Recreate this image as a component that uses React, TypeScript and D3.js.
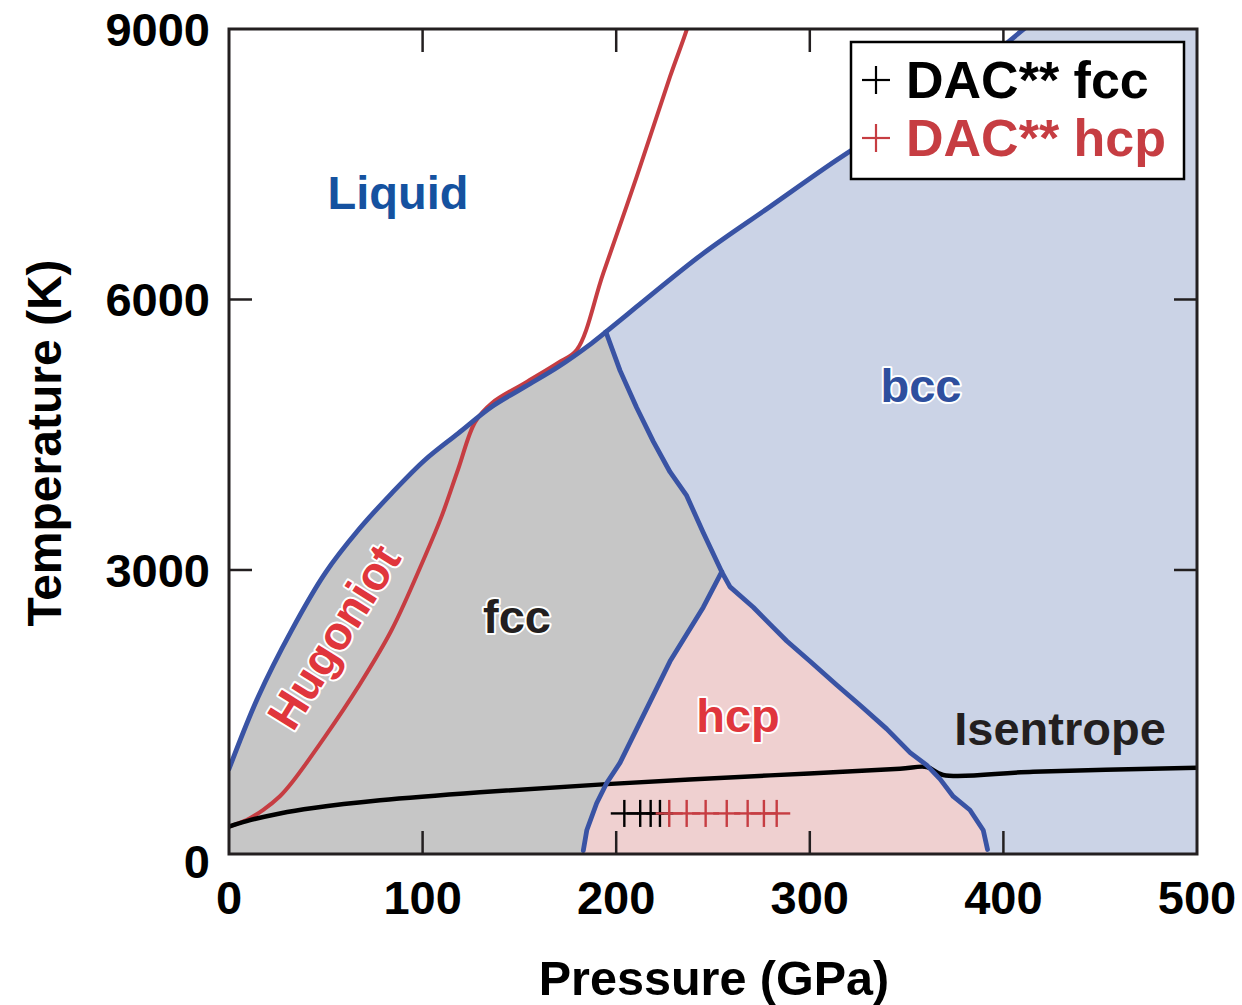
import React from 'react';
import * as d3 from 'd3';

type Pt = [number, number]; // [pressure GPa, temperature K]

// Phase boundaries
const meltFcc: Pt[] = [
  [0, 793], [15.1, 1595], [32.4, 2334], [49.6, 2963], [66.8, 3443], [84.0, 3850],
  [101.2, 4220], [118.4, 4516], [135.7, 4811], [152.9, 5033], [170.1, 5254],
  [187.3, 5514], [194.7, 5640],
];
const meltBcc: Pt[] = [
  [194.7, 5640], [210.6, 5920], [245.0, 6512], [279.4, 7029], [313.9, 7547],
  [348.3, 8027], [382.7, 8508], [412.0, 9025], [420.0, 9150],
];
const fccBcc: Pt[] = [
  [194.7, 5640], [202.0, 5211], [210.6, 4799], [219.2, 4424], [227.8, 4087],
  [236.4, 3824], [245.0, 3412], [254.5, 2980],
];
const hcpFcc: Pt[] = [
  [254.5, 2980], [245.0, 2587], [236.4, 2287], [227.8, 1987], [219.2, 1612],
  [210.6, 1238], [202.0, 863], [195.1, 638], [189.9, 413], [184.8, 113],
  [183.0, -112],
];
const hcpBcc: Pt[] = [
  [254.5, 2980], [258.8, 2813], [270.8, 2587], [279.4, 2400], [288.1, 2213],
  [300.1, 1987], [313.9, 1725], [326.0, 1500], [339.7, 1238], [351.8, 975],
  [360.4, 835], [367.3, 680], [374.1, 488], [382.7, 338], [389.6, 113], [391.8, -100],
];

// Thermodynamic paths
const hugoniot: Pt[] = [
  [0, 155], [9.1, 227], [17.7, 340], [26.3, 490], [32.4, 640], [49.6, 1151],
  [66.8, 1706], [84.0, 2334], [101.2, 3150], [109.9, 3600], [118.4, 4120],
  [127.1, 4640], [135.7, 4850], [152.9, 5075], [170.1, 5300], [179.6, 5440],
  [193.3, 6290], [210.6, 7362], [227.8, 8471], [236.4, 8990], [238.5, 9150],
];
const isentrope: Pt[] = [
  [0, 155], [9.1, 215], [26.3, 300], [43.5, 360], [78.0, 445], [129.6, 535],
  [195.1, 625], [279.4, 722], [346.6, 795], [360.4, 815], [368.9, 726],
  [415.4, 763], [500, 807],
];

// DAC measurements at room temperature
const dacFccP = [204.2, 212.4, 217.8, 222.6];
const dacHcpP = [227.4, 236.4, 246.2, 257.1, 267.9, 276.3, 282.9];
const dacT = 300;
const dacPErr = 7;
const dacTErr = 150;

const xTicks = [0, 100, 200, 300, 400, 500];
const yTicks = [0, 3000, 6000, 9000];

const FONT = '"Liberation Sans", Arial, Helvetica, sans-serif';
const BLUE = '#3953a4';
const RED = '#c63d42';
const INK = '#231f20';

export default function App() {
  const x = d3.scaleLinear().domain([0, 500]).range([229, 1197]);
  const y = d3.scaleLinear().domain([-150, 9000]).range([854, 29]);
  const [x0, x1] = x.range();
  const [yb, yt] = y.range();

  const lin = d3.line<Pt>().x(d => x(d[0])).y(d => y(d[1]));
  const smooth = d3.line<Pt>().x(d => x(d[0])).y(d => y(d[1])).curve(d3.curveCatmullRom.alpha(0.5));
  const L = (d: Pt) => `L${x(d[0])},${y(d[1])}`;
  const cont = (p: string | null) => (p || '').replace(/^M/, 'L');
  const rev = (a: Pt[]) => a.slice().reverse();

  const fccFill =
    `M${x(0)},${y(-150)}` + L([0, meltFcc[0][1]]) + cont(smooth(meltFcc)) +
    cont(lin(fccBcc)) + cont(lin(hcpFcc)) + L([182.9, -150]) + 'Z';
  const bccFill =
    (smooth(meltBcc) || '') + L([500, 9150]) + L([500, -150]) + L([391.9, -150]) +
    cont(lin(rev(hcpBcc))) + cont(lin(rev(fccBcc))) + 'Z';
  const hcpFill =
    (lin(hcpBcc) || '') + L([391.9, -150]) + L([182.9, -150]) + cont(lin(rev(hcpFcc))) + 'Z';

  const tickLen = 23;
  const innerX = xTicks.filter(v => v > 0 && v < 500);
  const innerY = yTicks.filter(v => v > 0 && v < 9000);

  const cross = (p: number, color: string, key: string) => (
    <g key={key} stroke={color} strokeWidth={2.4}>
      <line x1={x(p)} x2={x(p)} y1={y(dacT - dacTErr)} y2={y(dacT + dacTErr)} />
      <line x1={x(p - dacPErr)} x2={x(p + dacPErr)} y1={y(dacT)} y2={y(dacT)} />
    </g>
  );

  const halo = { stroke: '#fff', strokeWidth: 4, paintOrder: 'stroke' as const, strokeLinejoin: 'round' as const };

  return (
    <svg width={1242} height={1005} style={{ position: 'absolute', left: 0, top: 0, background: '#fff' }}
      fontFamily={FONT} fontWeight="bold">
      <defs>
        <clipPath id="plot">
          <rect x={x0} y={yt} width={x1 - x0} height={yb - yt} />
        </clipPath>
      </defs>
      <g clipPath="url(#plot)">
        <rect x={x0} y={yt} width={x1 - x0} height={yb - yt} fill="#fff" />
        <path d={fccFill} fill="#c6c6c6" />
        <path d={bccFill} fill="#cbd3e6" />
        <path d={hcpFill} fill="#efd0d0" />
        <path d={smooth(hugoniot) || ''} fill="none" stroke={RED} strokeWidth={4} />
        <path d={smooth(isentrope) || ''} fill="none" stroke="#000" strokeWidth={4.5} strokeLinejoin="round" />
        {[meltFcc, meltBcc].map((c, i) => (
          <path key={'m' + i} d={smooth(c) || ''} fill="none" stroke={BLUE} strokeWidth={4.8} strokeLinejoin="round" strokeLinecap="round" />
        ))}
        {[fccBcc, hcpFcc, hcpBcc].map((c, i) => (
          <path key={'b' + i} d={lin(c) || ''} fill="none" stroke={BLUE} strokeWidth={4.8} strokeLinejoin="round" strokeLinecap="round" />
        ))}
        {dacFccP.map((p, i) => cross(p, '#000', 'f' + i))}
        {dacHcpP.map((p, i) => cross(p, RED, 'h' + i))}
      </g>

      {/* Region labels */}
      <text x={398} y={209} fontSize={47} fill="#1552a0" textAnchor="middle">Liquid</text>
      <text x={921} y={402} fontSize={47} fill="#2e4f9e" textAnchor="middle" {...halo}>bcc</text>
      <text x={517} y={633} fontSize={47} fill={INK} textAnchor="middle" {...halo}>fcc</text>
      <text x={738} y={732} fontSize={47} fill="#e0363c" textAnchor="middle" {...halo}>hcp</text>
      <text x={1060} y={745} fontSize={47} fill={INK} textAnchor="middle">Isentrope</text>
      <g transform="translate(334,637) rotate(-58)">
        <text x={0} y={16} fontSize={47} fill="#e0363c" textAnchor="middle" {...halo}>Hugoniot</text>
      </g>

      {/* Frame and ticks */}
      <rect x={x0} y={yt} width={x1 - x0} height={yb - yt} fill="none" stroke={INK} strokeWidth={3} />
      <g stroke={INK} strokeWidth={2.5}>
        {innerX.map(v => (
          <g key={'xt' + v}>
            <line x1={x(v)} x2={x(v)} y1={yb} y2={yb - tickLen} />
            <line x1={x(v)} x2={x(v)} y1={yt} y2={yt + tickLen} />
          </g>
        ))}
        {innerY.map(v => (
          <g key={'yt' + v}>
            <line x1={x0} x2={x0 + tickLen} y1={y(v)} y2={y(v)} />
            <line x1={x1} x2={x1 - tickLen} y1={y(v)} y2={y(v)} />
          </g>
        ))}
      </g>
      {xTicks.map(v => (
        <text key={'xl' + v} x={x(v)} y={914} fontSize={47} fill="#000" textAnchor="middle">{v}</text>
      ))}
      {yTicks.map(v => (
        <text key={'yl' + v} x={210} y={(v === 0 ? yb + 7 : y(v)) + 17} fontSize={47} fill="#000" textAnchor="end">{v}</text>
      ))}

      {/* Axis titles */}
      <text x={714} y={995} fontSize={48.5} fill="#000" textAnchor="middle">Pressure (GPa)</text>
      <text transform="translate(61,443) rotate(-90)" fontSize={48} fill="#000" textAnchor="middle">Temperature (K)</text>

      {/* Legend */}
      <rect x={851} y={42} width={333} height={137} fill="#fff" stroke="#000" strokeWidth={2.5} />
      <g stroke="#000" strokeWidth={2.2}>
        <line x1={862} x2={890} y1={80} y2={80} />
        <line x1={876} x2={876} y1={66} y2={94} />
      </g>
      <g stroke={RED} strokeWidth={2.2}>
        <line x1={862} x2={890} y1={138} y2={138} />
        <line x1={876} x2={876} y1={124} y2={152} />
      </g>
      <text x={906} y={98} fontSize={52} fill="#000">DAC** fcc</text>
      <text x={906} y={156} fontSize={52} fill={RED}>DAC** hcp</text>
    </svg>
  );
}
